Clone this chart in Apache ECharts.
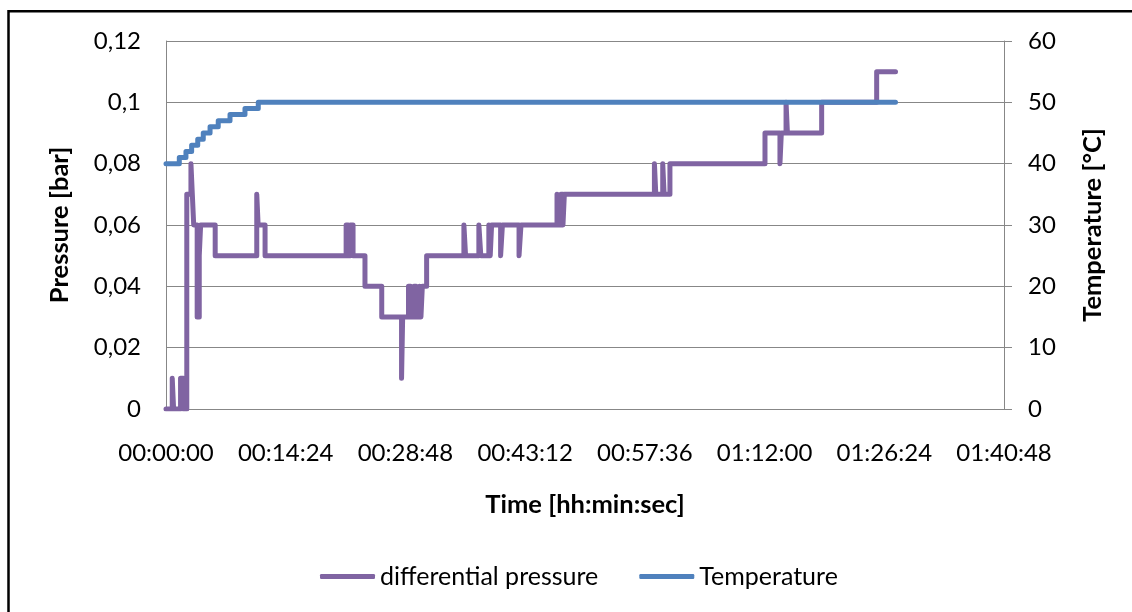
<!DOCTYPE html>
<html>
<head>
<meta charset="utf-8">
<script src="https://cdn.jsdelivr.net/npm/echarts@6/dist/echarts.min.js"></script>
<style>
html,body{margin:0;padding:0;background:#fff;}
#chart{width:1132px;height:612px;}
</style>
</head>
<body>
<div id="chart"></div>
<script>
// time in seconds from start
const xTickLabels = ['00:00:00','00:14:24','00:28:48','00:43:12','00:57:36','01:12:00','01:26:24','01:40:48'];
const leftTickLabels = ['0','0,02','0,04','0,06','0,08','0,1','0,12'];
const rightTickLabels = ['0','10','20','30','40','50','60'];

const pressureTime = [0,45,55,105,125,150,180,190,200,225,240,250,355,655,665,715,1300,1315,1330,1350,1436,1557,1700,1708,1750,1765,1790,1805,1830,1840,1850,1881,2150,2162,2258,2272,2330,2340,2350,2415,2428,2548,2562,2822,2835,2850,2865,2875,3525,3535,3585,3595,3637,4323,4431,4441,4475,4485,4732,5129,5265];
const pressureValue = [0,0.01,0,0.01,0,0.07,0.08,0.07,0.06,0.03,0.05,0.06,0.05,0.07,0.06,0.05,0.06,0.05,0.06,0.05,0.04,0.03,0.01,0.03,0.04,0.03,0.04,0.03,0.04,0.03,0.04,0.05,0.06,0.05,0.06,0.05,0.06,0.05,0.06,0.05,0.06,0.05,0.06,0.07,0.06,0.07,0.06,0.07,0.08,0.07,0.08,0.07,0.08,0.09,0.08,0.09,0.1,0.09,0.1,0.11,0.11];

const tempTime = [0,96,144,185,229,269,318,377,462,570,666,5265];
const tempValue = [40,41,42,43,44,45,46,47,48,49,50,50];

const seriesNames = ['differential pressure','Temperature'];

const FONT = 'Lato, "Open Sans", sans-serif';
const chart = echarts.init(document.getElementById('chart'));
const gridColor = '#878787';

chart.setOption({
  animation: false,
  backgroundColor: '#ffffff',
  textStyle: { fontFamily: FONT, color: '#000' },
  graphic: [{
    type: 'rect', silent: true, z: 100,
    shape: { x: 8.5, y: 11.3, width: 1140, height: 620 },
    style: { fill: 'none', stroke: '#000', lineWidth: 2.5 }
  }],
  grid: { left: 166, right: 128, top: 41, bottom: 203 },
  legend: {
    left: 320, top: 564, padding: 0,
    icon: 'roundRect', itemWidth: 55, itemHeight: 5, itemGap: 41,
    textStyle: { fontFamily: FONT, fontSize: 25, color: '#000' },
    data: seriesNames
  },
  xAxis: {
    type: 'value', min: 0, max: 6048, interval: 864,
    name: 'Time [hh:min:sec]', nameLocation: 'middle', nameGap: 83,
    nameTextStyle: { fontFamily: FONT, fontSize: 25.5, fontWeight: 'bold', color: '#000' },
    axisLine: { show: true, lineStyle: { color: gridColor, width: 1 } },
    axisTick: { show: false },
    splitLine: { show: false },
    axisLabel: {
      margin: 32, fontSize: 24, color: '#000', fontFamily: FONT,
      formatter: v => xTickLabels[Math.round(v / 864)]
    }
  },
  yAxis: [{
    type: 'value', min: 0, max: 0.12, interval: 0.02, position: 'left',
    name: 'Pressure [bar]', nameLocation: 'middle', nameGap: 93, nameRotate: 90,
    nameTextStyle: { fontFamily: FONT, fontSize: 25.5, fontWeight: 'bold', color: '#000' },
    axisLine: { show: true, lineStyle: { color: gridColor, width: 1 } },
    axisTick: { show: false },
    splitLine: { show: true, lineStyle: { color: gridColor, width: 1 } },
    axisLabel: {
      margin: 25, fontSize: 24, color: '#000', fontFamily: FONT,
      formatter: v => leftTickLabels[Math.round(v / 0.02)]
    }
  }, {
    type: 'value', min: 0, max: 60, interval: 10, position: 'right',
    name: 'Temperature [°C]', nameLocation: 'middle', nameGap: 76, nameRotate: 90,
    nameTextStyle: { fontFamily: FONT, fontSize: 25.5, fontWeight: 'bold', color: '#000' },
    axisLine: { show: true, lineStyle: { color: gridColor, width: 1 } },
    axisTick: { show: true, inside: false, length: 8, lineStyle: { color: gridColor, width: 1 } },
    splitLine: { show: false },
    axisLabel: {
      margin: 24, fontSize: 24, color: '#000', fontFamily: FONT,
      formatter: v => rightTickLabels[Math.round(v / 10)]
    }
  }],
  series: [{
    name: seriesNames[0], type: 'line', yAxisIndex: 0, step: 'end',
    showSymbol: false, symbol: 'none', z: 2,
    itemStyle: { color: '#8064A2' },
    lineStyle: { color: '#8064A2', width: 5, cap: 'round', join: 'round' },
    data: pressureTime.map((t, i) => [t, pressureValue[i]])
  }, {
    name: seriesNames[1], type: 'line', yAxisIndex: 1, step: 'end',
    showSymbol: false, symbol: 'none', z: 3,
    itemStyle: { color: '#4F81BD' },
    lineStyle: { color: '#4F81BD', width: 5, cap: 'round', join: 'round' },
    data: tempTime.map((t, i) => [t, tempValue[i]])
  }]
});
</script>
</body>
</html>
